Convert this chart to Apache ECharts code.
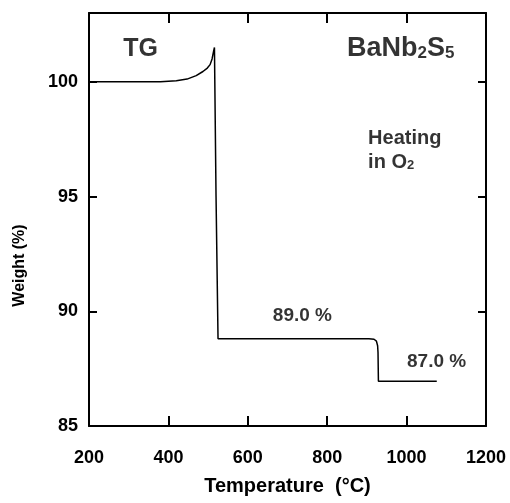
<!DOCTYPE html>
<html>
<head>
<meta charset="utf-8">
<script src="https://cdn.jsdelivr.net/npm/echarts@6/dist/echarts.min.js"></script>
<style>
  html, body { margin: 0; padding: 0; background: #fff; }
  #chart { width: 510px; height: 503px; }
</style>
</head>
<body>
<div id="chart"></div>
<script>
// TG curve, temperature (°C) and weight (%)
const temps   = [200, 300, 380, 420, 447, 470, 487, 498, 505, 510, 514, 516, 520, 525, 700, 905, 918, 924, 927, 928, 929, 1000, 1076];
const weights = [100, 100, 100.0, 100.05, 100.12, 100.27, 100.45, 100.6, 100.75, 101.0, 101.35, 101.5, 95.0, 88.8, 88.8, 88.8, 88.78, 88.7, 88.5, 88.2, 86.95, 86.95, 86.95];

const xTicks = [200, 400, 600, 800, 1000, 1200];
const yTicks = [85, 90, 95, 100];

// annotations: [temp, weight, text]
const notes = [
  [286, 101.43, '{b|TG}'],
  [850, 101.43, '{b2|BaNb}{s|2}{b2|S}{s|5}'],
  [903, 97.55, '{m|Heating}'],
  [903, 96.5, '{m|in O}{ms|2}'],
  [663, 89.8, '{p|89.0 %}'],
  [1001, 87.79, '{p|87.0 %}']
];

const font = 'Liberation Sans, Arial, Helvetica, sans-serif';
const chart = echarts.init(document.getElementById('chart'));

const axisLine = { show: true, lineStyle: { color: '#000', width: 2 } };

chart.setOption({
  animation: false,
  grid: { left: 89, right: 24, top: 13, bottom: 77, outerBoundsMode: 'none' },
  xAxis: [
    {
      type: 'value', min: 200, max: 1200, interval: 200,
      name: 'Temperature  (°C)', nameLocation: 'middle', nameGap: 50,
      nameTextStyle: { fontFamily: font, fontWeight: 'bold', fontSize: 20, color: '#000' },
      axisLine: axisLine,
      axisTick: { inside: true, length: 10, lineStyle: { color: '#000', width: 2 } },
      axisLabel: { margin: 23, fontFamily: font, fontWeight: 'bold', fontSize: 18, color: '#000',
        formatter: v => xTicks.includes(v) ? String(v) : '' },
      splitLine: { show: false }
    },
    {
      type: 'value', position: 'top', min: 200, max: 1200, interval: 200,
      axisLine: axisLine,
      axisTick: { inside: true, length: 10, lineStyle: { color: '#000', width: 2 } },
      axisLabel: { show: false },
      splitLine: { show: false }
    }
  ],
  yAxis: [
    {
      type: 'value', min: 85, max: 103, interval: 5,
      name: 'Weight (%)', nameLocation: 'middle', nameGap: 61,
      nameTextStyle: { fontFamily: font, fontWeight: 'bold', fontSize: 16, color: '#000', padding: [0, 92, 0, 0] },
      axisLine: axisLine,
      axisTick: { inside: true, length: 8, lineStyle: { color: '#000', width: 2 } },
      axisLabel: { margin: 11, fontFamily: font, fontWeight: 'bold', fontSize: 18, color: '#000',
        showMaxLabel: false,
        formatter: v => yTicks.includes(v) ? String(v) : '' },
      splitLine: { show: false }
    },
    {
      type: 'value', position: 'right', min: 85, max: 103, interval: 5,
      axisLine: axisLine,
      axisTick: { inside: true, length: 8, lineStyle: { color: '#000', width: 2 } },
      axisLabel: { show: false },
      splitLine: { show: false }
    }
  ],
  series: [
    {
      type: 'line',
      data: temps.map((t, i) => [t, weights[i]]),
      showSymbol: false,
      lineStyle: { color: '#000', width: 1.5 },
      z: 3
    },
    {
      type: 'scatter',
      symbolSize: 0,
      data: notes.map(n => ({ value: [n[0], n[1]], label: { formatter: n[2] } })),
      label: {
        show: true, position: 'right', distance: 0,
        rich: {
          b: { fontFamily: font, fontWeight: 'bold', fontSize: 25, color: '#000' },
          b2: { fontFamily: font, fontWeight: 'bold', fontSize: 27, color: '#000' },
          s: { fontFamily: font, fontWeight: 'bold', fontSize: 17, color: '#000', padding: [9, 0, 0, 0] },
          m: { fontFamily: font, fontWeight: 'bold', fontSize: 20, color: '#000' },
          ms: { fontFamily: font, fontWeight: 'bold', fontSize: 13, color: '#000', padding: [7, 0, 0, 0] },
          p: { fontFamily: font, fontWeight: 'bold', fontSize: 19, color: '#000' }
        }
      },
      silent: true
    }
  ]
});
</script>
</body>
</html>
